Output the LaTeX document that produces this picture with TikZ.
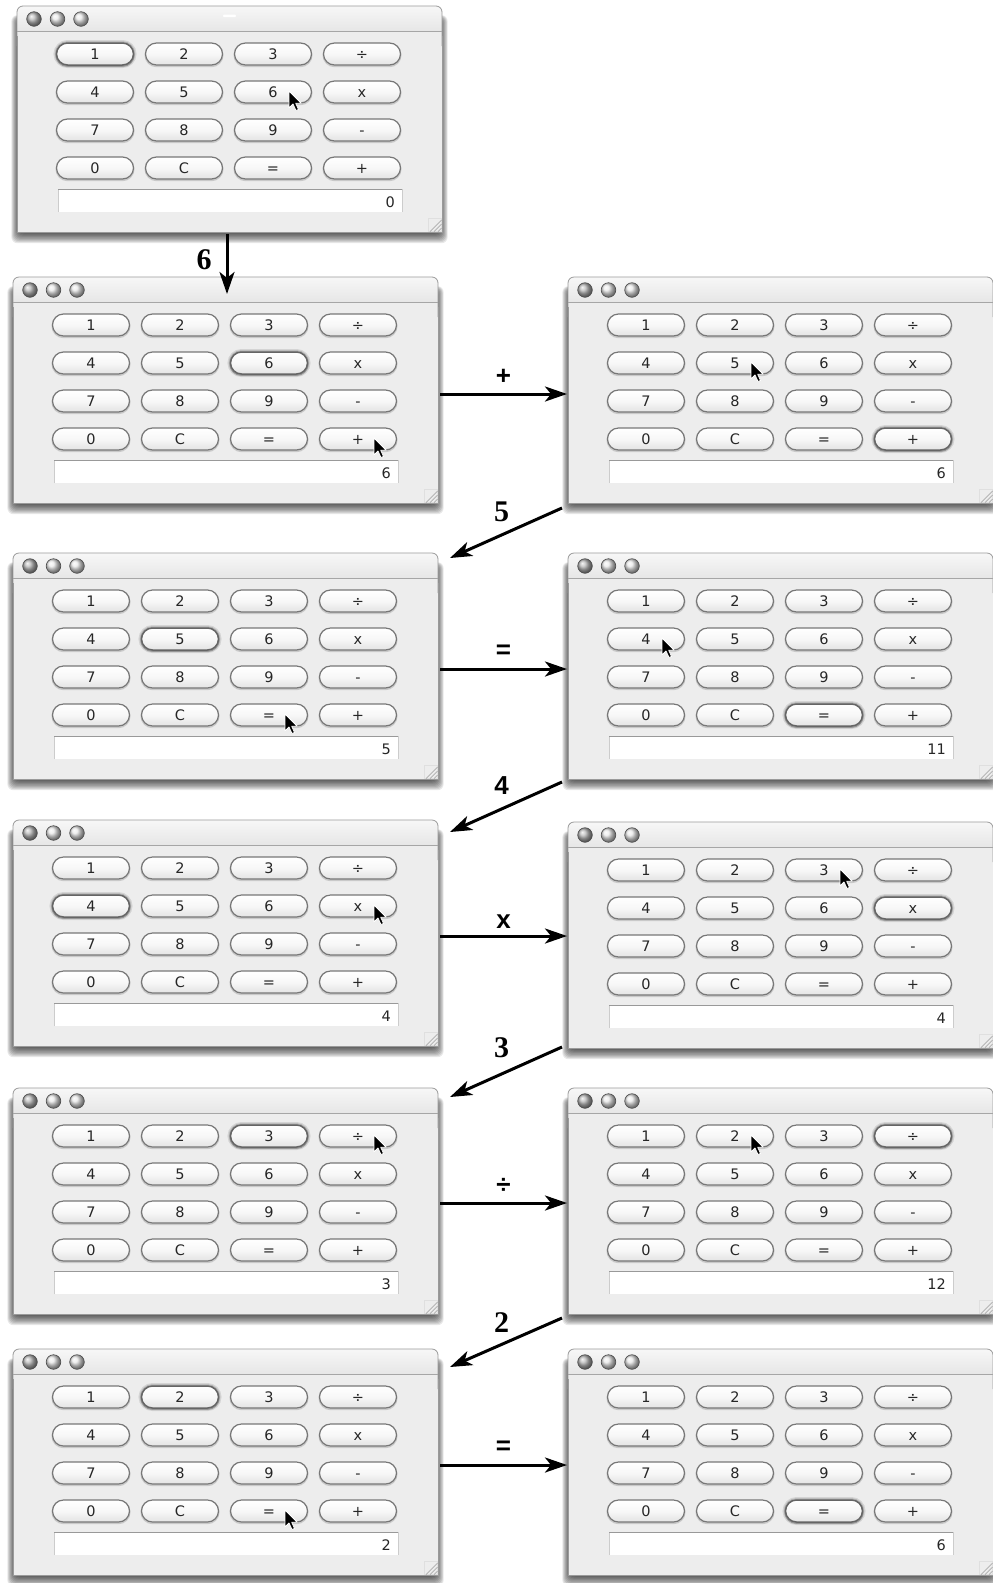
\documentclass[tikz,border=0pt]{standalone}
\usepackage{fontspec}
\setmainfont{DejaVu Sans}
\newfontfamily\btnfont{DejaVu Sans}
\newfontfamily\lblserif{Liberation Serif}
\newfontfamily\lblsans{Liberation Sans}
\usetikzlibrary{arrows.meta,calc}
\definecolor{winbg}{HTML}{EDEDED}
\definecolor{tbtop}{HTML}{F7F7F7}
\definecolor{tbbot}{HTML}{D6D6D6}
\definecolor{wborder}{HTML}{9A9A9A}
\definecolor{btnborder}{HTML}{777777}
\tikzset{
  btntext/.style={anchor=base,inner sep=0pt,font=\btnfont\fontsize{14.5}{15}\selectfont,text=black!85},
  arr/.style={line width=3pt,-{Stealth[length=22pt,width=15pt,inset=6pt]}},
  lblS/.style={inner sep=0pt,font=\lblserif\bfseries\fontsize{30}{30}\selectfont},
  lblA/.style={inner sep=0pt,font=\lblsans\bfseries\fontsize{26}{26}\selectfont},
  winframe/.style={inner sep=0pt,outer sep=0pt,minimum width=425pt,minimum height=226pt,anchor=north west}
}
% #1 name, #2 x, #3 y, #4 pressed index, #5 cursor index (-1 none), #6 display
\newcommand\calcwin[6]{%
\begin{scope}[shift={(#2,#3)}]
  \foreach \i in {1,...,12}{\fill[black,opacity=0.09,rounded corners=6] ({4-0.8*\i},{14-0.4*\i}) rectangle ({421+0.8*\i},{224+1.1*\i});}
  \shade[top color=tbtop,bottom color=tbbot!80!tbtop,rounded corners=6] (0,0) rectangle (425,40);
  \fill[winbg] (0,25) rectangle (425,226);
  \draw[wborder,line width=0.8,rounded corners=6] (0,40) -- (0,0) -- (425,0) -- (425,40);
  \draw[wborder,line width=0.8] (0,30) -- (0,226) -- (425,226) -- (425,30);
  \draw[gray!70,line width=0.8] (0,25) -- (425,25);
  \shade[ball color=gray!55] (17,13) circle (7.3);
  \shade[ball color=gray!18] (40.5,13) circle (7.3);
  \shade[ball color=gray!18] (64,13) circle (7.3);
  \foreach \cx in {17,40.5,64}{\draw[gray!60!black,line width=0.6] (\cx,13) circle (7.3);}
  \foreach \lab [count=\k from 0] in {1,2,3,÷,4,5,6,x,7,8,9,-,0,C,=,+}{
    \pgfmathtruncatemacro\cc{mod(\k,4)}
    \pgfmathtruncatemacro\rr{int(\k/4)}
    \pgfmathsetmacro\bx{78+89*\cc}
    \pgfmathsetmacro\by{48+38*\rr}
    \ifnum\k=#4\relax
      \draw[black,opacity=0.10,line width=6,rounded corners=11] (\bx-38.5,\by-11) rectangle (\bx+38.5,\by+11);
      \draw[black,opacity=0.16,line width=3.5,rounded corners=11] (\bx-38.5,\by-11) rectangle (\bx+38.5,\by+11);
    \fi
    \draw[black,opacity=0.15,line width=2,rounded corners=11] (\bx-38.5,\by-10) rectangle (\bx+38.5,\by+12.2);
    \shade[top color=white,bottom color=gray!22,middle color=gray!6,rounded corners=11] (\bx-38.5,\by-11) rectangle (\bx+38.5,\by+11);
    \ifnum\k=#4\relax
      \draw[btnborder!85!black,line width=1.5,rounded corners=11] (\bx-38.5,\by-11) rectangle (\bx+38.5,\by+11);
    \else
      \draw[btnborder,line width=1.2,rounded corners=11] (\bx-38.5,\by-11) rectangle (\bx+38.5,\by+11);
    \fi
    \node[btntext] (#1-b\k) at (\bx,\by+5.5) {\lab};
  }
  \fill[white] (41,183) rectangle (385,206);
  \draw[gray!40,line width=0.7] (41,206) -- (41,183) -- (385,183) -- (385,206);
  \draw[gray!80,line width=1.4] (41,183.7) -- (385,183.7);
  \node[btntext,anchor=base east] (#1-disp) at (378,201) {#6};
  \draw[gray!25,line width=0.6] (411,212) rectangle (424.5,225.5);
  \foreach \d in {4,8,12}{\draw[gray!65,line width=0.7] (425-\d,225.5) -- (424.5,226-\d);}
  \ifnum#5>-1\relax
    \pgfmathtruncatemacro\mc{mod(#5,4)}
    \pgfmathtruncatemacro\mr{int(#5/4)}
    \pgfmathsetmacro\mx{78+89*\mc+16}
    \pgfmathsetmacro\my{48+38*\mr-1}
    \fill[black,draw=white,line width=0.8,line join=round] (\mx,\my) -- ++(0,17) -- ++(4,-4) -- ++(3,6.5) -- ++(2.5,-1) -- ++(-2.8,-6.3) -- ++(5.5,0) -- cycle;
  \fi
  \node[winframe] (#1) at (0,0) {};
\end{scope}}
\begin{document}
\begin{tikzpicture}[x=1pt,y=-1pt]
\useasboundingbox (0,0) rectangle (993,1583);
\fill[white] (0,0) rectangle (993,1583);
\calcwin{w1}{17}{6}{0}{6}{0}
\fill[white,rounded corners=1] (223,14.5) rectangle (236,17);
\calcwin{w2}{13}{277}{6}{15}{6}
\calcwin{w3}{568}{277}{15}{5}{6}
\calcwin{w4}{13}{553}{5}{14}{5}
\calcwin{w5}{568}{553}{14}{4}{11}
\calcwin{w6}{13}{820}{4}{7}{4}
\calcwin{w7}{568}{822}{7}{2}{4}
\calcwin{w8}{13}{1088}{2}{3}{3}
\calcwin{w9}{568}{1088}{3}{1}{12}
\calcwin{w10}{13}{1349}{1}{14}{2}
\calcwin{w11}{568}{1349}{14}{-1}{6}
% arrows
\draw[arr] ($(w1.south)+(-2.5,2)$) -- node[lblS,xshift=-23pt,yshift=4pt] (l6) {6} ($(w2.north)+(1.5,17)$);
\draw[arr] ($(w2.east)+(2,4)$) -- node[lblA,yshift=17pt] (lplus) {+} ($(w3.west |- w2.east)+(-1,4)$);
\draw[arr] ($(w3.south west)+(-6,5)$) -- node[lblS,xshift=-4.5pt,yshift=21pt] (l5) {5} ($(w4.north east)+(12,5)$);
\draw[arr] ($(w4.east)+(2,3)$) -- node[lblA,yshift=17pt] (leq1) {=} ($(w5.west |- w4.east)+(-1,3)$);
\draw[arr] ($(w5.south west)+(-6,3)$) -- node[lblA,xshift=-4.5pt,yshift=21pt] (l4) {4} ($(w6.north east)+(12,12)$);
\draw[arr] ($(w6.east)+(2,3)$) -- node[lblA,yshift=14pt] (lx) {x} ($(w7.west |- w6.east)+(-1,3)$);
\draw[arr] ($(w7.south west)+(-6,-1)$) -- node[lblS,xshift=-4.5pt,yshift=24pt] (l3) {3} ($(w8.north east)+(12,9)$);
\draw[arr] ($(w8.east)+(2,2)$) -- node[lblA,yshift=17pt] (ldiv) {÷} ($(w9.west |- w8.east)+(-1,2)$);
\draw[arr] ($(w9.south west)+(-6,4)$) -- node[lblS,xshift=-4.5pt,yshift=20pt] (l2) {2} ($(w10.north east)+(12,18)$);
\draw[arr] ($(w10.east)+(2,3)$) -- node[lblA,yshift=17pt] (leq2) {=} ($(w11.west |- w10.east)+(-1,3)$);
\end{tikzpicture}
\end{document}
